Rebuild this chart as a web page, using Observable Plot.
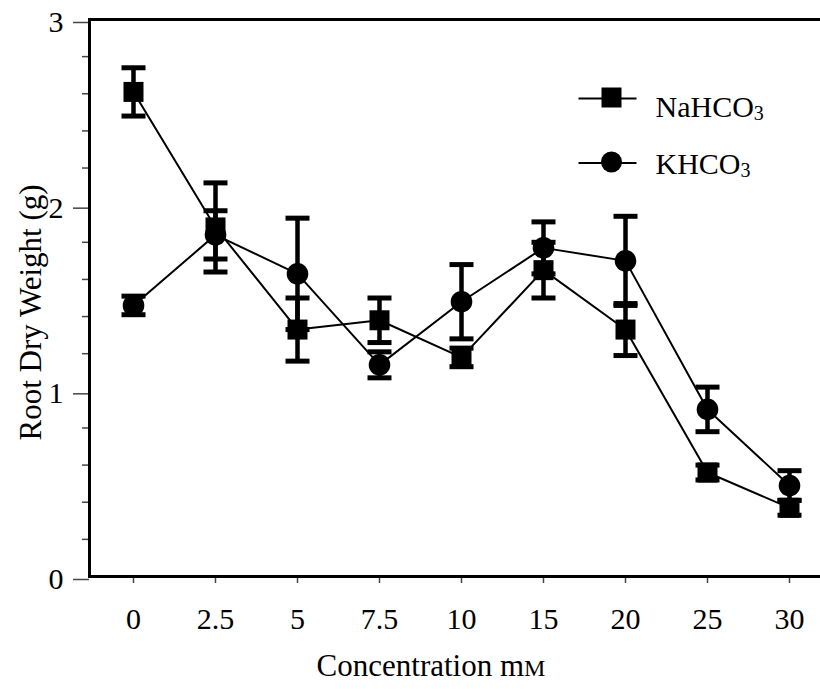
<!DOCTYPE html>
<html><head><meta charset="utf-8">
<script src="https://cdn.jsdelivr.net/npm/d3@7"></script>
<script src="https://cdn.jsdelivr.net/npm/@observablehq/plot@0.6"></script>
<style>body{margin:0;background:#fff;} svg{display:block}</style>
</head><body><div id="chart"></div>
<script>
// ---- data ----
const concentrations = ["0","2.5","5","7.5","10","15","20","25","30"];
const naMean = [2.61, 1.88, 1.33, 1.38, 1.18, 1.65, 1.33, 0.56, 0.37];
const naErr  = [0.13, 0.24, 0.17, 0.12, 0.05, 0.15, 0.14, 0.04, 0.04];
const kMean  = [1.46, 1.84, 1.63, 1.14, 1.48, 1.77, 1.70, 0.90, 0.49];
const kErr   = [0.05, 0.13, 0.30, 0.07, 0.20, 0.14, 0.24, 0.12, 0.08];
const seriesNames = ["NaHCO3", "KHCO3"];
const yMajorTicks = [0, 1, 2, 3];
const yMinorTicks = [0.2, 0.4, 0.6, 0.8, 1.2, 1.4, 1.6, 1.8, 2.2, 2.4, 2.6, 2.8];
const frameLines = [0, 3];
const xTitle = "Concentration mM";
const yTitle = "Root Dry Weight (g)";

// ---- table built from the arrays ----
const rows = [];
concentrations.forEach((c, i) => {
  rows.push({series: seriesNames[0], conc: c, mean: naMean[i], lo: naMean[i] - naErr[i], hi: naMean[i] + naErr[i]});
  rows.push({series: seriesNames[1], conc: c, mean: kMean[i], lo: kMean[i] - kErr[i], hi: kMean[i] + kErr[i]});
});
const naRows = rows.filter(d => d.series === seriesNames[0]);
const kRows = rows.filter(d => d.series === seriesNames[1]);

// ---- custom symbols ----
const squareSym = {draw(c) { c.rect(-10, -10, 20, 20); }};
const capSym = {draw(c) { c.rect(-12, -2.5, 24, 5); }};
const lineSym = {draw(c) { c.moveTo(-29, 0); c.lineTo(29, 0); }};

const font = "'Liberation Serif', 'Times New Roman', Times, serif";

const chart = Plot.plot({
  width: 820,
  height: 689,
  marginLeft: 89,
  marginRight: 0,
  marginTop: 19,
  marginBottom: 113,
  style: {fontFamily: font, fontSize: "30px", background: "white", color: "black"},
  x: {type: "point", domain: concentrations, range: [130.3, 790.7], padding: 0},
  y: {domain: [0, 3]},
  marks: [
    Plot.axisY({ticks: yMinorTicks, tickSize: 7, tickFormat: () => "", stroke: "#444", strokeWidth: 1.5, label: null}),
    Plot.axisY({ticks: yMajorTicks, tickSize: 16, tickPadding: 10, tickFormat: d => String(d), dy: 3, stroke: "#444", strokeWidth: 1.5, fill: "black", fontSize: 30, label: null}),
    Plot.axisX({tickSize: 7, tickPadding: 24, stroke: "#444", strokeWidth: 1.5, fill: "black", fontSize: 30, label: null}),
    Plot.ruleY(frameLines, {stroke: "black", strokeWidth: 3}),
    Plot.frame({anchor: "left", stroke: "black", strokeWidth: 3}),
    // connecting lines
    Plot.line(rows, {x: "conc", y: "mean", z: "series", stroke: "black", strokeWidth: 2}),
    // error bars
    Plot.ruleX(rows, {x: "conc", y1: "lo", y2: "hi", stroke: "black", strokeWidth: 4.5}),
    Plot.dot(rows, {x: "conc", y: "lo", symbol: capSym, fill: "black", stroke: "none"}),
    Plot.dot(rows, {x: "conc", y: "hi", symbol: capSym, fill: "black", stroke: "none"}),
    // markers
    Plot.dot(kRows, {x: "conc", y: "mean", symbol: "circle", r: 10.8, fill: "black", stroke: "none"}),
    Plot.dot(naRows, {x: "conc", y: "mean", symbol: squareSym, fill: "black", stroke: "none"}),
    // legend
    Plot.dot([seriesNames[0]], {x: null, y: null, frameAnchor: "top-left", dx: 518, dy: 79, symbol: lineSym, fill: "none", stroke: "black", strokeWidth: 2}),
    Plot.dot([seriesNames[0]], {x: null, y: null, frameAnchor: "top-left", dx: 522, dy: 78, symbol: squareSym, fill: "black", stroke: "none"}),
    Plot.text([seriesNames[0]], {x: null, y: null, text: d => d, frameAnchor: "top-left", dx: 566, dy: 76.5, textAnchor: "start", fill: "black", fontSize: 30}),
    Plot.dot([seriesNames[1]], {x: null, y: null, frameAnchor: "top-left", dx: 518, dy: 143.5, symbol: lineSym, fill: "none", stroke: "black", strokeWidth: 2}),
    Plot.dot([seriesNames[1]], {x: null, y: null, frameAnchor: "top-left", dx: 522, dy: 142.5, symbol: "circle", r: 10.5, fill: "black", stroke: "none"}),
    Plot.text([seriesNames[1]], {x: null, y: null, text: d => d, frameAnchor: "top-left", dx: 566, dy: 133.5, textAnchor: "start", fill: "black", fontSize: 30}),
    // axis titles
    Plot.text([xTitle], {x: null, y: null, text: d => d, frameAnchor: "bottom", textAnchor: "middle", dx: -24, dy: 99, fill: "black", fontSize: 31}),
    Plot.text([yTitle], {x: null, y: null, text: d => d, frameAnchor: "left", textAnchor: "middle", lineAnchor: "middle", dx: -58, dy: 14.5, rotate: -90, fill: "black", fontSize: 31})
  ]
});

document.getElementById("chart").appendChild(chart);

// subscripts / small capitals
d3.select(chart).selectAll("text").each(function() {
  const t = d3.select(this);
  const s = this.textContent;
  if (s === "NaHCO3" || s === "KHCO3") {
    t.text(s.slice(0, -1));
    t.append("tspan").attr("font-size", "20px").attr("dy", "3").text("3");
  } else if (s === xTitle) {
    t.text(s.slice(0, -1));
    t.append("tspan").attr("font-size", "24px").text("M");
  }
});
</script>
</body></html>
